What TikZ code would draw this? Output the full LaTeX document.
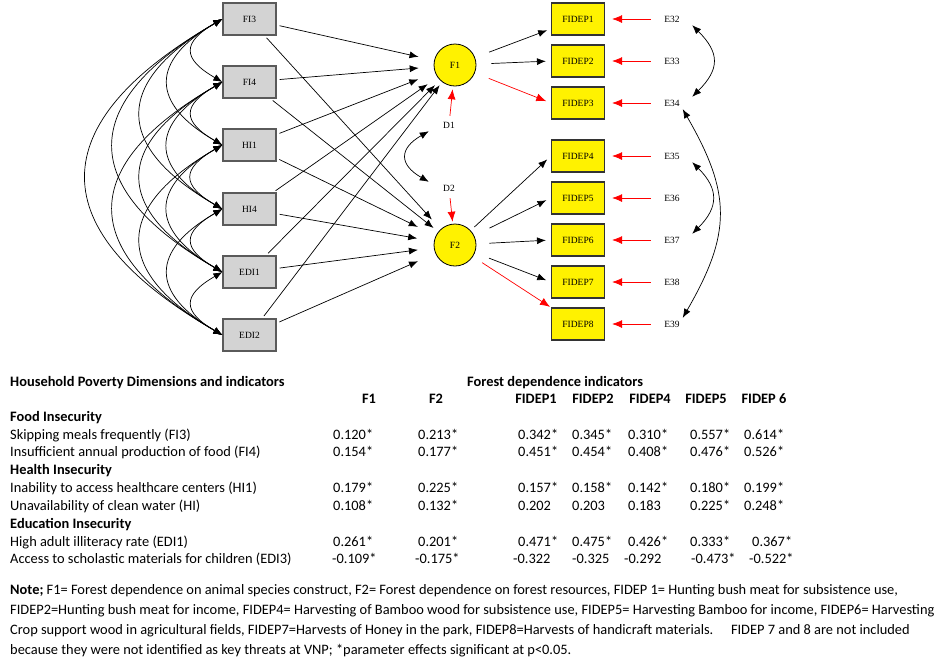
\documentclass[tikz,border=0pt]{standalone}
\usepackage{fontspec}
\setmainfont{Carlito}
\newfontfamily\amosfont{Liberation Serif}
\usepackage{xcolor}
\usetikzlibrary{arrows.meta}

\definecolor{boxgray}{HTML}{D3D3D3}
\definecolor{boxedge}{HTML}{5A5A5A}

\begin{document}
\begin{tikzpicture}[x=1pt,y=1pt,
    >={Latex[length=9pt,width=7pt]},
    obs/.style={draw=boxedge,line width=1.2pt,fill=boxgray,minimum width=53pt,minimum height=32pt,inner sep=0pt,font=\amosfont\fontsize{9.5}{11}\selectfont},
    ind/.style={obs,draw=black!80,fill=yellow},
    lat/.style={circle,draw=black,line width=0.8pt,fill=yellow,minimum size=42pt,inner sep=0pt,font=\amosfont\fontsize{9.5}{11}\selectfont},
    err/.style={minimum width=40pt,minimum height=12pt,inner sep=0pt,font=\amosfont\fontsize{9.5}{11}\selectfont},
    load/.style={->,line width=0.7pt},
    redpath/.style={->,red,line width=0.7pt,>={Latex[length=10pt,width=8pt]}},
    cov/.style={<->,line width=0.7pt},
    cell/.style={anchor=base west,inner sep=0pt,font=\fontsize{14.4}{17}\selectfont},
    headcell/.style={cell,font=\fontsize{14.4}{17}\selectfont\bfseries}]
    \useasboundingbox (0,0) rectangle (941,-657);
    %画布(bounding box)大小按参考图 941x657 设定
    \foreach \n/\t/\y in {1/FI3/19,2/FI4/82,3/HI1/145,4/HI4/209,5/EDI1/272,6/EDI2/335}
        \node[obs] (x\n) at (249.5,-\y) {\t};
    %左侧观测变量(obs),灰色方框,名字 x1...x6
    \foreach \i in {1,...,5} {
        \pgfmathtruncatemacro\k{\i+1}
        \foreach \j in {\k,...,6} {
            \pgfmathsetmacro\loose{ifthenelse(\j-\i==1,1.9,1.7)}
            \draw[cov] (x\i.west) to[out=210,in=150,looseness=\loose] (x\j.west);
        }
    }
    %两两之间的协方差(cov),双向箭头(<->),向左弯曲
    \node[lat] (F1) at (455,-65) {F1};
    \node[lat] (F2) at (455,-245) {F2};
    %潜变量(lat)F1、F2,黄色圆
    \node[err] (D1) at (449,-125) {D1};
    \node[err] (D2) at (449,-188) {D2};
    \draw[redpath,shorten <=3pt,shorten >=3pt] (D1) -- (F1);
    \draw[redpath,shorten <=4pt,shorten >=2pt] (D2) -- (F2);
    \draw[cov] (D1.south west) to[out=210,in=150,looseness=1.75] (D2.north west);
    %残差 D1、D2,红色箭头指向潜变量,左边弧线相连
    \foreach \i/\s in {1/16,2/15,3/18,4/12,5/7,6/4}
        \draw[load,shorten <=3pt,shorten >=\s pt] (x\i) -- (F1);
    \foreach \i/\s in {1/13,2/6,3/20,4/17,5/16,6/19}
        \draw[load,shorten <=3pt,shorten >=\s pt] (x\i) -- (F2);
    %路径(load):每个观测变量指向 F1 和 F2,shorten 调整箭头离圆的距离
    \foreach \n/\y in {1/19,2/61,3/103,4/156,5/198,6/240,7/282,8/324} {
        \pgfmathtruncatemacro\e{31+\n}
        \node[ind] (y\n) at (578,-\y) {FIDEP\n};
        \node[err] (e\n) at (672,-\y) {E\e};
        \draw[redpath,shorten <=1pt,shorten >=7pt] (e\n) -- (y\n);
    }
    %右侧指标(ind)FIDEP1...FIDEP8,误差项 E32...E39 用红色箭头指向方框
    \draw[load,shorten <=15pt,shorten >=4pt] (F1) -- (y1.200);
    \draw[load,shorten <=15pt,shorten >=5pt] (F1) -- (y2.west);
    \draw[redpath,shorten <=15pt,shorten >=5pt] (F1) -- (y3.west);
    \draw[load,shorten <=5pt,shorten >=5pt] (F2) -- (y4.west);
    \draw[load,shorten <=17pt,shorten >=5pt] (F2) -- (y5.west);
    \draw[load,shorten <=13pt,shorten >=5pt] (F2) -- (y6.west);
    \draw[load,shorten <=15pt,shorten >=5pt] (F2) -- (y7.west);
    \draw[redpath,shorten <=11pt,shorten >=1pt] (F2) -- (y8.north west);
    %潜变量到指标的载荷,FIDEP3 与 FIDEP8 为红色
    \draw[cov] (e1.south east) to[out=-45,in=45,looseness=1.4] (e3.north east);
    \draw[cov] (e4.south east) to[out=-45,in=45,looseness=1.35] (e6.north east);
    \draw[cov] (e3.-30) to[out=-60,in=60,looseness=1.2] (e8.30);
    %误差之间的协方差,向右弯曲
    \node[headcell] (hpd) at (10,-386.5) {Household Poverty Dimensions and indicators};
    \node[headcell] (fdi) at (467,-386.5) {Forest dependence indicators};
    \foreach \x/\t in {369/F1,436/F2,536/FIDEP1,593/FIDEP2,650/FIDEP4,706/FIDEP5,764/FIDEP 6}
        \node[headcell,anchor=base] (h\x) at (\x,-403.5) {\t};
    %表头(headcell),粗体
    \foreach \y/\t in {421.5/Food Insecurity,474.5/Health Insecurity,528.5/Education Insecurity}
        \node[headcell] (g\y) at (10,-\y) {\t};
    \foreach \y/\t in {439.5/Skipping meals frequently (FI3),456.5/Insufficient annual production of food (FI4),492.5/Inability to access healthcare centers (HI1),510.5/Unavailability of clean water (HI),546.5/High adult illiteracy rate (EDI1),563.5/Access to scholastic materials for children (EDI3)}
        \node[cell] (r\y) at (10,-\y) {\t};
    %行标题(cell)
    \foreach \y/\va/\vb/\vc/\vd/\ve/\vf/\vg in {439.5/0.120*/0.213*/0.342*/0.345*/0.310*/0.557*/0.614*,456.5/0.154*/0.177*/0.451*/0.454*/0.408*/0.476*/0.526*,492.5/0.179*/0.225*/0.157*/0.158*/0.142*/0.180*/0.199*,510.5/0.108*/0.132*/0.202/0.203/0.183/0.225*/0.248*}
        \foreach \x/\v in {333/\va,418/\vb,518/\vc,572/\vd,628/\ve,690/\vf,744/\vg}
            \node[cell] (v\x-\y) at (\x,-\y) {\v};
    \foreach \x/\v in {333/0.261*,418/0.201*,518/0.471*,572/0.475*,628/0.426*,690/0.333*,752/0.367*}
        \node[cell] (v\x-edi1) at (\x,-546.5) {\v};
    \foreach \x/\v in {332/-0.109*,415/-0.175*,513/-0.322,572/-0.325,624/-0.292,691/-0.473*,749/-0.522*}
        \node[cell] (v\x-edi3) at (\x,-563.5) {\v};
    %系数(数值),* 表示显著
    \node[anchor=north west,inner sep=0pt,align=left,font=\fontsize{14.4}{20}\selectfont] (note) at (10,-584)
        {\textbf{Note;} F1= Forest dependence on animal species construct, F2= Forest dependence on forest resources, FIDEP 1= Hunting bush meat for subsistence use,\\
        FIDEP2=Hunting bush meat for income, FIDEP4= Harvesting of Bamboo wood for subsistence use, FIDEP5= Harvesting Bamboo for income, FIDEP6= Harvesting\\
        Crop support wood in agricultural fields, FIDEP7=Harvests of Honey in the park, FIDEP8=Harvests of handicraft materials.\quad\ FIDEP 7 and 8 are not included\\
        because they were not identified as key threats at VNP; *parameter effects significant at p<0.05.};
    %注释(note)
\end{tikzpicture}
\end{document}
